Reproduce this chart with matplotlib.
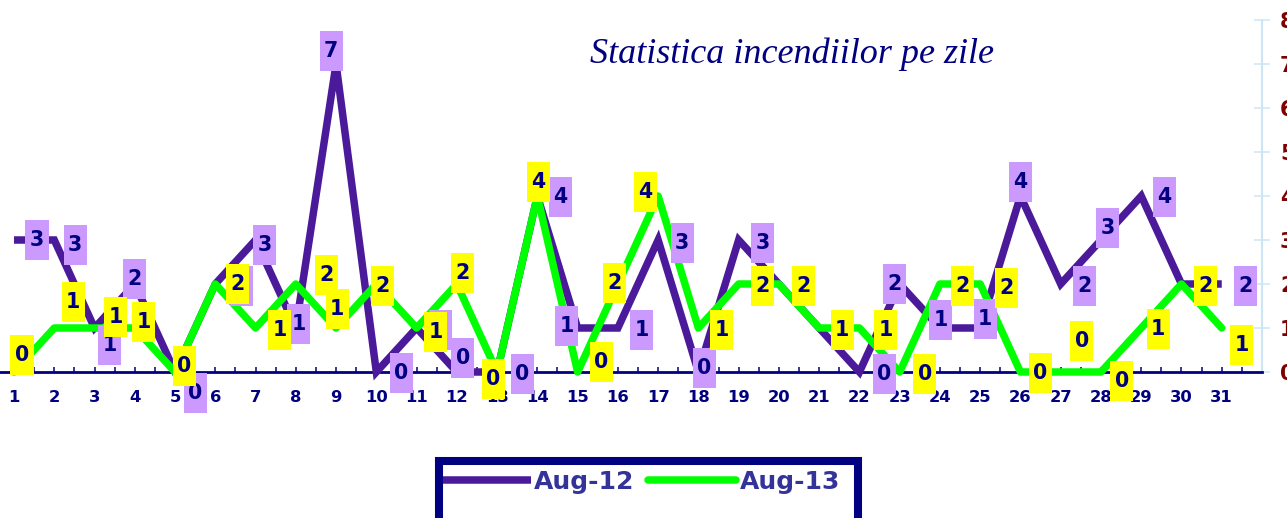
import matplotlib
matplotlib.use('Agg')

from matplotlib import pyplot as plt
from matplotlib.path import Path
from matplotlib.patches import Rectangle

# daily fire counts
days = list(range(1, 32))
aug12 = [3, 3, 1, 2, 0, 2, 3, 1, 7, 0, 1, 0, 0, 4, 1, 1, 3, 0, 3, 2, 1, 0, 2, 1, 1, 4, 2, 3, 4, 2, 2]
aug13 = [0, 1, 1, 1, 0, 2, 1, 2, 1, 2, 1, 2, 0, 4, 0, 2, 4, 1, 2, 2, 1, 1, 0, 2, 2, 0, 0, 0, 1, 2, 1]
series_names = ['Aug-12', 'Aug-13']
y_ticks = list(range(0, 9))

# hand-placed data label offsets (pixels), as in the original sheet
aug12_dx = [23, 21, 15, 0, 20, 26, 9, 3, -5, 25, 24, 6, 25, 23, -11, 24, 24, 6, 24, 25, 23, 25, -5, 1, 5, 0, 24, 7, 23, 24, 24]
aug12_dy = [0, -5, -17, 5, -21, -2, -5, 4, 13, -1, -2, 14, -2, -1, 2, -2, -3, 4, -3, -2, -2, -2, 0, 8, 9, 14, -2, 12, -1, -2, -2]
aug13_dx = [8, 19, 21, 9, 9, 22, 24, 31, 1, 6, 19, 6, -4, 1, 24, -3, -13, 23, 24, 25, 23, 26, 25, 23, 26, 20, 21, 21, 17, 24, 20]
aug13_dy = [17, 26, 11, 6, 6, 0, -2, 9, 19, -2, -4, 11, -7, 14, 10, 1, 4, -2, -2, -2, -2, -2, -2, -2, -4, -1, 31, -9, -1, -2, -17]

NAVY = '#000080'
PURPLE = '#4B1A9A'
GREEN = '#00FF00'


def tall_box(x0, y0, width, height, mutation_size):
    # fixed size box (taller than wide) centred on the label
    cx, cy = x0 + width / 2, y0 + height / 2
    w, h = 1.12 * mutation_size, 1.9 * mutation_size
    return Path([(cx - w / 2, cy - h / 2), (cx + w / 2, cy - h / 2),
                 (cx + w / 2, cy + h / 2), (cx - w / 2, cy + h / 2),
                 (cx - w / 2, cy - h / 2)], closed=True)


fig = plt.figure(figsize=(12.87, 5.18), dpi=100)
ax = fig.add_axes([0.0, 0.28185, 0.98057, 0.67954])

l1, = ax.plot(days, aug12, color=PURPLE, lw=5.4, solid_capstyle='butt',
              solid_joinstyle='miter', zorder=3, clip_on=False, label=series_names[0])
l2, = ax.plot(days, aug13, color=GREEN, lw=5.4, solid_capstyle='round',
              solid_joinstyle='round', zorder=3.5, clip_on=False, label=series_names[1])

for vals, dxs, dys, fc, z in [(aug12, aug12_dx, aug12_dy, '#CC99FF', 5),
                              (aug13, aug13_dx, aug13_dy, '#FFFF00', 6)]:
    for d, v, dx, dy in zip(days, vals, dxs, dys):
        ax.annotate(str(v), xy=(d, v), xytext=(dx, dy), textcoords='offset pixels',
                    ha='center', va='center', fontsize=14.8, fontweight='bold',
                    color=NAVY, zorder=z, annotation_clip=False,
                    bbox=dict(boxstyle=tall_box, fc=fc, ec='none'))

ax.set_xlim(0.652, 32)
ax.set_ylim(0, 8)

# x axis
ax.set_xticks(days)
ax.set_xticklabels([str(d) for d in days])
ax.set_xticks([d + 0.5 for d in days], minor=True)
ax.tick_params(axis='x', which='both', direction='in', length=3.6, width=1.1,
               color=NAVY, labelcolor=NAVY, pad=13)
ax.tick_params(axis='x', which='major', labelsize=11.8)
for lbl in ax.get_xticklabels():
    lbl.set_fontweight('bold')

# right value axis
ax.yaxis.tick_right()
ax.set_yticks(y_ticks)
ax.tick_params(axis='y', which='both', direction='inout', length=12, width=1.1,
               color='#CCE6F6', labelcolor='#7F0000', labelsize=15, pad=7)
for lbl in ax.get_yticklabels():
    lbl.set_fontweight('bold')

ax.spines['left'].set_visible(False)
ax.spines['top'].set_visible(False)
ax.spines['right'].set_color('#CCE6F6')
ax.spines['right'].set_linewidth(1.5)
ax.spines['bottom'].set_color(NAVY)
ax.spines['bottom'].set_linewidth(2)

fig.text(792.5 / 1287, 1 - 63 / 518, 'Statistica incendiilor pe zile',
         family='Liberation Serif', style='italic', fontsize=26, color=NAVY,
         ha='center', va='baseline')

# legend box
fig.patches.append(Rectangle((439 / 1287, -0.05), (857.5 - 439) / 1287, 1 - 461 / 518 + 0.05,
                             transform=fig.transFigure, fc='white', ec=NAVY, lw=5.8, zorder=1))
leg = fig.legend(handles=[l1, l2], loc='center left', ncol=2,
                 bbox_to_anchor=(443 / 1287, 1 - 482 / 518), frameon=False,
                 borderpad=0, borderaxespad=0, handlelength=3.5, handletextpad=0.15,
                 columnspacing=0.55, prop={'weight': 'bold', 'size': 18},
                 labelcolor='#333399')
leg.set_zorder(2)

fig.savefig('out.png', dpi=100)
